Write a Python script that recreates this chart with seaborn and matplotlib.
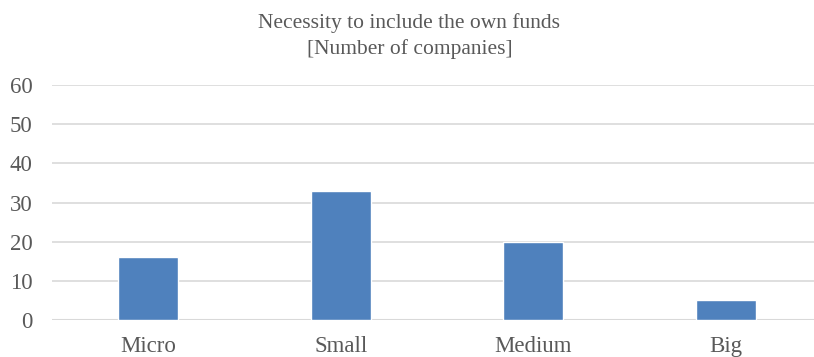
import matplotlib
matplotlib.use("Agg")
import matplotlib.pyplot as plt
import seaborn as sns
import pandas as pd

categories = ["Micro", "Small", "Medium", "Big"]
companies = [16, 33, 20, 5]
y_ticks = [0, 10, 20, 30, 40, 50, 60]
title_text = "Necessity to include the own funds\n[Number of companies]"

sns.set_theme(style="white")
plt.rcParams["font.family"] = ["Liberation Serif", "DejaVu Serif"]

df = pd.DataFrame({"size": categories, "count": companies})

fig = plt.figure(figsize=(8.14, 3.57), dpi=100)
ax = fig.add_axes([0.0639, 0.1045, 0.9361, 0.6565])

sns.barplot(data=df, x="size", y="count", color="#4F81BD", saturation=1,
            width=0.31, ax=ax, zorder=3)

ax.set_ylim(0, 60)
ax.set_yticks(y_ticks)
ax.set_xlim(-0.5, 3.458)
ax.yaxis.grid(True, color="#D9D9D9", linewidth=1.2, zorder=0)
ax.set_axisbelow(True)
for s in ax.spines.values():
    s.set_visible(False)
ax.axhline(0, color="#D9D9D9", linewidth=1.5, zorder=2)
ax.set_xlabel("")
ax.set_ylabel("")
ax.tick_params(axis="both", length=0, labelsize=16.5, colors="#595959")
ax.tick_params(axis="y", pad=14)
ax.tick_params(axis="x", pad=12)

fig.text(0.503, 0.962, title_text, ha="center", va="top", fontsize=15.5,
         color="#595959", linespacing=1.4)

fig.savefig("out.png", dpi=100)
